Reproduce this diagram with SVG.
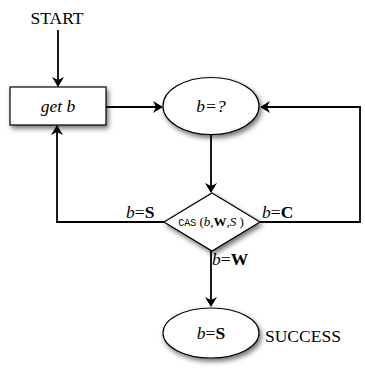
<svg xmlns="http://www.w3.org/2000/svg" width="365" height="370" viewBox="0 0 365 370">
<style>
text{font-family:'Liberation Serif','Times New Roman','DejaVu Serif',serif;fill:#000}
.lbl{font-size:17.5px}
.it{font-style:italic}
.b{font-weight:bold}
.node{fill:#fff;stroke:#000;stroke-width:1.2}
.edge{fill:none;stroke:#000;stroke-width:1.8}
</style>
<defs>
<marker id="arr" markerWidth="10" markerHeight="12" refX="9" refY="6" orient="auto" markerUnits="userSpaceOnUse">
<path d="M0,0 L10,6 L0,12 L3,6 Z" fill="#000"/>
</marker>
<filter id="sh" x="-20%" y="-20%" width="150%" height="160%">
<feDropShadow dx="2" dy="3" stdDeviation="2.5" flood-color="#000" flood-opacity="0.55"/>
</filter>
</defs>
<text class="lbl" x="57" y="24" text-anchor="middle" font-size="18">START</text>
<g id="connectors">
<line class="edge" x1="58" y1="30" x2="58" y2="86" marker-end="url(#arr)"/>
<line class="edge" x1="106" y1="107" x2="162" y2="107" marker-end="url(#arr)"/>
<line class="edge" x1="211" y1="135" x2="211" y2="192" marker-end="url(#arr)"/>
<polyline class="edge" points="164,222 57,222 57,126" marker-end="url(#arr)"/>
<polyline class="edge" points="260,222 360,222 360,107 261,107" marker-end="url(#arr)"/>
<line class="edge" x1="211" y1="251" x2="211" y2="306" marker-end="url(#arr)"/>
</g>
<g id="getb">
<rect class="node" x="10" y="87" width="96" height="38" filter="url(#sh)"/>
<text class="lbl it" x="58" y="112" text-anchor="middle">get b</text>
</g>
<g id="read">
<ellipse class="node" cx="211" cy="106" rx="48" ry="28.5" filter="url(#sh)"/>
<text class="lbl it" x="211" y="112" text-anchor="middle">b=?</text>
</g>
<g id="cas">
<polygon class="node" points="212,193 260,222 212,251 164,222" filter="url(#sh)"/>
<text x="211" y="226" text-anchor="middle" font-size="13"><tspan font-family="'Liberation Mono','DejaVu Sans Mono',monospace" font-size="10">CAS</tspan> (<tspan class="it">b</tspan>,<tspan class="b">W</tspan>,<tspan class="it">S</tspan> )</text>
</g>
<g id="success">
<ellipse class="node" cx="211" cy="333" rx="48" ry="25" stroke-width="3" filter="url(#sh)"/>
<text class="lbl" x="211" y="339" text-anchor="middle"><tspan class="it">b</tspan>=<tspan class="b">S</tspan></text>
<text class="lbl" x="265" y="342" font-size="18.5">SUCCESS</text>
</g>
<text class="lbl" x="126" y="218"><tspan class="it">b</tspan>=<tspan class="b">S</tspan></text>
<text class="lbl" x="262" y="218"><tspan class="it">b</tspan>=<tspan class="b">C</tspan></text>
<text class="lbl" x="212" y="265"><tspan class="it">b</tspan>=<tspan class="b">W</tspan></text>
</svg>
